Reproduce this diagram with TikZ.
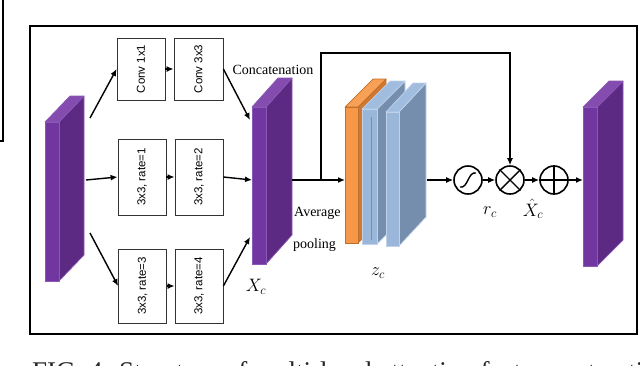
\RequirePackage{fix-cm}
\documentclass[tikz,border=0pt]{standalone}
\usepackage{fontspec}
\setmainfont{Liberation Serif}
\setsansfont{Liberation Sans}
\usepackage{graphicx}
\usetikzlibrary{arrows.meta}
\definecolor{purF}{RGB}{114,54,160}
\definecolor{purS}{RGB}{92,42,130}
\definecolor{purT}{RGB}{132,76,174}
\definecolor{purE}{RGB}{138,88,182}
\definecolor{orF}{RGB}{247,152,72}
\definecolor{orS}{RGB}{206,122,52}
\definecolor{orT}{RGB}{248,160,85}
\definecolor{orE}{RGB}{192,110,40}
\definecolor{blF}{RGB}{154,182,216}
\definecolor{blS}{RGB}{118,142,174}
\definecolor{blT}{RGB}{160,188,222}
\definecolor{blE}{RGB}{192,210,234}
\newcommand{\boxthreed}[8]{%
  \filldraw[fill=#8S, draw=#8E, line width=0.7pt, line join=round]
    (#2+#4,#3) -- ++(#6,-#7) -- ++(0,#5) -- ++(-#6,#7) -- cycle;
  \filldraw[fill=#8T, draw=#8E, line width=0.7pt, line join=round]
    (#2,#3) -- ++(#6,-#7) -- ++(#4,0) -- ++(-#6,#7) -- cycle;
  \node[inner sep=0, outer sep=0, anchor=north west, fill=#8F, draw=#8E, line width=0.7pt,
        minimum width=#4pt, minimum height=#5pt] (#1) at (#2,#3) {};
}
\tikzset{
  convbox/.style={draw=black!80, line width=0.8pt, minimum width=48pt, inner sep=0,
                  font=\sffamily\fontsize{11.5}{13}\selectfont},
  opcirc/.style={circle, draw, line width=1.6pt, minimum size=28pt, inner sep=0},
  arr/.style={line width=1.4pt, -{Latex[length=7pt,width=6pt]}},
  lbl/.style={inner sep=0, font=\fontsize{14}{16}\selectfont},
  mlbl/.style={inner sep=0, font=\fontsize{18}{20}\selectfont}
}
\begin{document}
\begin{tikzpicture}[x=1pt,y=-1pt]
\useasboundingbox (0,0) rectangle (640,365);
% leftover corner of a neighbouring frame
\draw[line width=1.1pt] (3,0) -- (3,141) -- (0,141);
% main frame
\draw[line width=1.8pt] (30,26) rectangle (637,334);

% 3D blocks
\boxthreed{inL}{45}{122}{14}{159}{25}{26}{pur}
\boxthreed{Xc}{252}{107}{14}{157}{26}{29}{pur}
\boxthreed{outB}{583}{107}{14}{159}{26}{26}{pur}
\boxthreed{zO}{345}{107}{13}{136}{28}{28}{or}
\boxthreed{zBa}{362}{109}{15}{135}{28}{28}{bl}
\draw[orS, line width=0.9pt] (371,117) -- (371,240);
\boxthreed{zBb}{386}{112}{13}{134}{27}{29}{bl}

% conv boxes
\node[convbox, minimum height=62pt] (T1) at (141,69) {\rotatebox{90}{Conv 1x1}};
\node[convbox, minimum height=62pt, minimum width=49pt] (T2) at (198.5,69) {\rotatebox{90}{Conv 3x3}};
\node[convbox, minimum height=76pt] (M1) at (142,177) {\rotatebox{90}{3x3, rate=1}};
\node[convbox, minimum height=76pt] (M2) at (199,177) {\rotatebox{90}{3x3, rate=2}};
\node[convbox, minimum height=74pt] (B1) at (142.5,286) {\rotatebox{90}{3x3, rate=3}};
\node[convbox, minimum height=74pt] (B2) at (199,286) {\rotatebox{90}{3x3, rate=4}};

% operator circles
\node[opcirc] (c1) at (468,180) {};
\node[opcirc] (c2) at (510,180) {};
\node[opcirc] (c3) at (554,180) {};
\draw[line width=1.4pt] ([shift={(-8,7)}]c1.center) .. controls ([shift={(0,9)}]c1.center) and ([shift={(0,-9)}]c1.center) .. ([shift={(8,-7)}]c1.center);
\draw[line width=1.4pt] (c2.north east) -- (c2.south west) (c2.north west) -- (c2.south east);
\draw[line width=1.4pt] (c3.north) -- (c3.south) (c3.west) -- (c3.east);

% connector end points
\coordinate (lT) at (90,118);
\coordinate (lM) at (86,180);
\coordinate (lB) at (90,233);
\coordinate (xT) at (250,120);
\coordinate (xM) at (252,180);
\coordinate (xB) at (250,237);
\coordinate (xS) at (292,180);
\coordinate (br) at (321,180);
\coordinate (topL) at (321,53);
\coordinate (zS) at (427,180);

\draw[arr] (lT) -- (T1.west);
\draw[arr] (T1) -- (T2);
\draw[arr] (T2.east) -- (xT);
\draw[arr] (lM) -- (M1.west);
\draw[arr] (M1) -- (M2);
\draw[arr] (M2.east) -- (xM);
\draw[arr] (lB) -- (B1.west);
\draw[arr] (B1) -- (B2);
\draw[arr] (B2.east) -- (xB);
\draw[arr] (xS) -- (zO.west |- xS);
\draw[arr] (br) -- (topL) -| (c2.north);
\draw[arr] (zS) -- (c1.west);
\draw[arr] (c1) -- (c2);
\draw[arr] (c2) -- (c3);
\draw[arr] (c3) -- (outB.west |- c3);

% labels
\node[lbl] (concat) at (273,70) {Concatenation};
\node[lbl, anchor=west] (avg) at (294,213) {Average};
\node[lbl, anchor=west] (pool) at (293,245) {pooling};
\node[mlbl] (lXc) at (256,287) {$X_c$};
\node[mlbl] (lzc) at (378,273) {$z_c$};
\node[mlbl] (lrc) at (490,212) {$r_c$};
\node[mlbl] (lxh) at (533,209) {$\hat{X}_c$};

% caption, cut by the lower edge
\begin{scope}
\clip (0,0) rectangle (640,365);
\node[anchor=base west, inner sep=0, text=black!85, font=\fontsize{27}{30}\selectfont] (cap) at (32,380) {FIG. 4: Structure of multi-level attention feature extraction};
\end{scope}
\end{tikzpicture}
\end{document}
